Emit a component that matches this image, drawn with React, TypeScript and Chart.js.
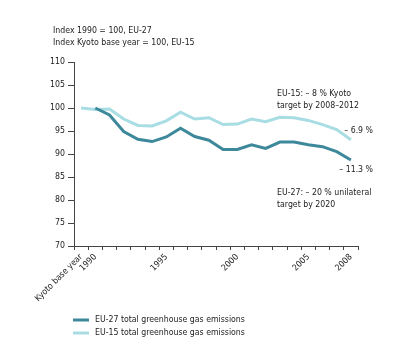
import React, { useEffect, useRef } from "react";
import { Chart, registerables } from "chart.js";

Chart.register(...registerables);

const categories = [
  "Kyoto base year", "1990", "1991", "1992", "1993", "1994", "1995", "1996", "1997", "1998",
  "1999", "2000", "2001", "2002", "2003", "2004", "2005", "2006", "2007", "2008",
];
const shownTickLabels = ["Kyoto base year", "1990", "1995", "2000", "2005", "2008"];

const eu27 = [null, 100, 98.5, 94.9, 93.2, 92.7, 93.7, 95.6, 93.8, 93.0,
  91.0, 91.0, 92.0, 91.2, 92.6, 92.6, 92.0, 91.6, 90.5, 88.7];
const eu15 = [100, 99.7, 99.8, 97.6, 96.2, 96.1, 97.2, 99.1, 97.6, 97.9,
  96.4, 96.5, 97.6, 97.0, 98.0, 97.9, 97.3, 96.4, 95.3, 93.1];

const yMin = 70;
const yMax = 110;
const yStep = 5;

const titleLines = ["Index 1990 = 100, EU-27", "Index Kyoto base year = 100, EU-15"];
const legendLabels = ["EU-27 total greenhouse gas emissions", "EU-15 total greenhouse gas emissions"];
const noteEU15 = ["EU-15: \u2013 8 % Kyoto", "target by 2008\u20132012"];
const noteEU27 = ["EU-27: \u2013 20 % unilateral", "target by 2020"];
const endLabelEU15 = "\u2013 6.9 %";
const endLabelEU27 = "\u2013 11.3 %";

const DARK = "#3d889a";
const LIGHT = "#a8dde4";
const TEXT = "#222222";
const FONT = '"DejaVu Sans Condensed", "DejaVu Sans", sans-serif';
const FS = 8.7;

const textPlugin = {
  id: "texts",
  afterDraw(chart: any) {
    const ctx = chart.ctx;
    ctx.save();
    ctx.fillStyle = TEXT;
    ctx.font = `${FS}px ${FONT}`;
    ctx.textBaseline = "middle";
    ctx.textAlign = "left";
    ctx.fillText(titleLines[0], 53, 31);
    ctx.fillText(titleLines[1], 53, 43);
    ctx.fillText(noteEU15[0], 277, 94);
    ctx.fillText(noteEU15[1], 277, 106);
    ctx.fillText(noteEU27[0], 277, 193);
    ctx.fillText(noteEU27[1], 277, 205);
    ctx.textAlign = "right";
    ctx.fillText(endLabelEU15, 373, 131);
    ctx.fillText(endLabelEU27, 373, 170);
    ctx.textAlign = "left";
    const cols = [DARK, LIGHT];
    legendLabels.forEach((l, i) => {
      const y = 320 + i * 13;
      ctx.strokeStyle = cols[i];
      ctx.lineWidth = 3;
      ctx.beginPath();
      ctx.moveTo(73, y);
      ctx.lineTo(89, y);
      ctx.stroke();
      ctx.fillText(l, 95, y);
    });
    ctx.restore();
  },
};

export default function App() {
  const ref = useRef<HTMLCanvasElement>(null);
  useEffect(() => {
    if (!ref.current) return;
    const chart = new Chart(ref.current, {
      type: "line",
      data: {
        labels: categories,
        datasets: [
          {
            label: legendLabels[0],
            data: eu27,
            borderColor: DARK,
            backgroundColor: DARK,
            borderWidth: 3,
            pointRadius: 0,
            tension: 0,
          },
          {
            label: legendLabels[1],
            data: eu15,
            borderColor: LIGHT,
            backgroundColor: LIGHT,
            borderWidth: 3,
            pointRadius: 0,
            tension: 0,
          },
        ],
      },
      options: {
        responsive: false,
        animation: false,
        layout: { padding: { top: 62, right: 42, bottom: 57, left: 0 } },
        plugins: { legend: { display: false }, tooltip: { enabled: false } },
        scales: {
          x: {
            offset: true,
            grid: {
              offset: true,
              drawOnChartArea: false,
              drawTicks: true,
              tickLength: 4,
              color: "#444",
            },
            border: { display: true, color: "#444", width: 1 },
            ticks: {
              autoSkip: false,
              maxRotation: 45,
              minRotation: 45,
              color: TEXT,
              font: { family: FONT, size: FS },
              padding: 2,
              callback: function (this: any, v: any) {
                const lab = categories[v as number];
                return shownTickLabels.includes(lab) ? lab : "";
              },
            },
            afterFit(scale: any) {
              scale.height = 60;
            },
          },
          y: {
            min: yMin,
            max: yMax,
            grid: {
              drawOnChartArea: false,
              drawTicks: true,
              tickLength: 6,
              color: "#444",
            },
            border: { display: true, color: "#444", width: 1 },
            ticks: {
              stepSize: yStep,
              color: TEXT,
              font: { family: FONT, size: FS },
              padding: 3,
            },
            afterFit(scale: any) {
              scale.width = 74;
            },
          },
        },
      },
      plugins: [textPlugin],
    });
    return () => chart.destroy();
  }, []);
  return (
    <div style={{ position: "absolute", left: 0, top: 0, width: 400, height: 363, background: "#fff" }}>
      <canvas ref={ref} width={400} height={363} style={{ width: 400, height: 363 }} />
    </div>
  );
}
